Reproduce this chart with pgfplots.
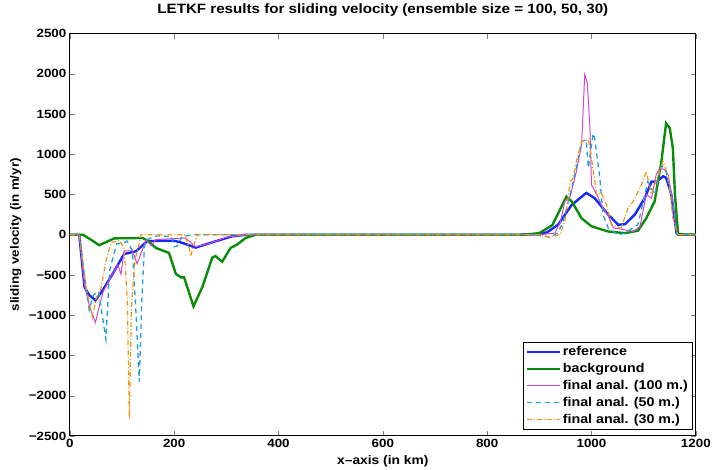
\documentclass[border=0pt]{standalone}
\usepackage{pgfplots}
\pgfplotsset{compat=1.18}
\usepackage{fontspec}
\setmainfont{Liberation Sans}[FakeStretch=1.12]
\definecolor{cref}{RGB}{20,40,250}
\definecolor{cbg}{RGB}{10,140,10}
\definecolor{cmag}{RGB}{210,70,210}
\definecolor{ccy}{RGB}{30,160,220}
\definecolor{cor}{RGB}{240,150,20}
\begin{document}
\begin{tikzpicture}
\begin{axis}[
  scale only axis, width=627bp, height=403bp,
  xmin=0, xmax=1200, ymin=-2500, ymax=2500,
  xtick={0,200,...,1200},
  ytick={-2500,-2000,...,2500},
  yticklabels={\textminus2500,\textminus2000,\textminus1500,\textminus1000,\textminus500,0,500,1000,1500,2000,2500},
  /pgf/number format/assume math mode=true,
  /pgf/number format/1000 sep={},
  tick label style={font=\fontsize{12}{13}\selectfont\bfseries},
  tick align=inside, major tick length=5bp,
  xtick pos=both, ytick pos=both,
  axis line style={line width=0.9pt},
  title={\fontsize{13.6}{15}\selectfont\bfseries LETKF results for sliding velocity (ensemble size = 100, 50, 30)},
  title style={at={(axis description cs:0.5,1)}, anchor=center, yshift=18bp},
  xlabel={\fontsize{12.4}{14}\selectfont\bfseries x\textendash axis (in km)},
  ylabel={\fontsize{12}{14}\selectfont\bfseries sliding velocity (in m/yr)},
  xlabel style={at={(axis description cs:0.5,0)}, anchor=center, yshift=-25bp},
  ylabel style={at={(axis description cs:0,0.5)}, anchor=south, yshift=45bp},
  legend style={at={(rel axis cs:0.995,0.015)}, anchor=south east,
    font=\fontsize{12.8}{13}\selectfont\bfseries, cells={anchor=west},
    draw=black, line width=0.8pt, row sep=2.2bp, inner sep=2.5bp},
  legend image code/.code={\draw[#1] plot coordinates {(0cm,0cm)(0.58cm,0cm)(1.16cm,0cm)};},
]
\addplot[cref, line width=2.4pt] coordinates {
(0,0)(18,0)(28,-650)(37,-750)(49,-815)(63,-690)(82,-485)(104,-240)(127,-205)(148,-80)(171,-75)(200,-75)(215,-100)(241,-160)(280,-80)(311,-20)(338,0)(860,0)(890,5)(915,30)(936,125)(962,370)(990,520)(1006,455)(1032,250)(1051,125)(1064,130)(1083,250)(1102,455)(1115,660)(1125,660)(1137,725)(1143,710)(1153,500)(1163,20)(1168,0)(1200,0)};
\addlegendentry{reference}
\addplot[cbg, line width=2.4pt] coordinates {
(0,0)(25,0)(40,-60)(56,-130)(70,-90)(85,-45)(139,-40)(150,-75)(165,-165)(190,-225)(203,-485)(213,-530)(219,-530)(237,-890)(254,-650)(273,-285)(279,-265)(292,-335)(308,-165)(321,-120)(337,-40)(356,0)(870,0)(900,20)(925,120)(952,475)(962,415)(981,205)(1000,105)(1032,40)(1064,20)(1089,50)(1105,205)(1121,415)(1134,910)(1143,1385)(1150,1325)(1156,1075)(1160,500)(1166,5)(1200,0)};
\addlegendentry{background}
\addplot[cmag, line width=1pt] coordinates {
(0,0)(18,0)(28,-620)(38,-900)(49,-1090)(56,-900)(63,-720)(82,-480)(92,-380)(98,-490)(104,-200)(120,-200)(129,-360)(146,-65)(156,-135)(165,-60)(222,-40)(241,-150)(267,-110)(300,-30)(340,0)(900,0)(930,20)(940,150)(949,415)(959,475)(971,785)(981,1120)(987,1990)(992,1885)(997,1325)(1000,620)(1010,500)(1019,370)(1032,230)(1042,85)(1064,60)(1080,40)(1093,105)(1105,500)(1115,455)(1124,745)(1131,830)(1141,805)(1147,745)(1156,415)(1163,20)(1168,0)(1200,0)};
\addlegendentry{final anal. (100 m.)}
\addplot[ccy, line width=1.3pt, dash pattern=on 5bp off 4bp] coordinates {
(0,0)(18,0)(28,-500)(37,-935)(45,-750)(55,-700)(62,-1000)(69,-1300)(76,-450)(85,-225)(90,-110)(100,-110)(110,-80)(120,-200)(127,-1000)(133,-1825)(138,-800)(143,-135)(148,-60)(165,-15)(195,-20)(200,-150)(206,-140)(215,-20)(240,0)(890,0)(920,-30)(935,20)(945,150)(959,500)(971,830)(981,1160)(990,1180)(994,830)(1003,1260)(1006,1200)(1016,705)(1022,250)(1032,85)(1051,0)(1064,20)(1089,125)(1108,660)(1121,500)(1134,870)(1143,785)(1156,370)(1163,20)(1168,0)(1200,0)};
\addlegendentry{final anal. (50 m.)}
\addplot[cor, line width=1.2pt, dash pattern=on 5bp off 2bp on 1bp off 2bp] coordinates {
(0,0)(18,0)(31,-650)(43,-1020)(50,-800)(59,-690)(69,-330)(79,-100)(95,-70)(104,-165)(110,-800)(114,-2285)(118,-900)(125,-300)(130,-200)(136,0)(146,0)(220,0)(228,-150)(232,-265)(236,-150)(245,0)(900,0)(920,-30)(940,0)(950,200)(959,660)(965,705)(971,910)(981,1160)(994,1180)(1000,950)(1010,500)(1019,520)(1029,370)(1038,125)(1057,85)(1070,330)(1080,415)(1093,580)(1105,785)(1115,500)(1128,745)(1137,910)(1147,745)(1156,205)(1166,0)(1200,0)};
\addlegendentry{final anal. (30 m.)}
\end{axis}
\path[use as bounding box] ([xshift=-70bp,yshift=-34bp]current axis.south west) rectangle ([xshift=17bp,yshift=33bp]current axis.north east);
\end{tikzpicture}
\end{document}
